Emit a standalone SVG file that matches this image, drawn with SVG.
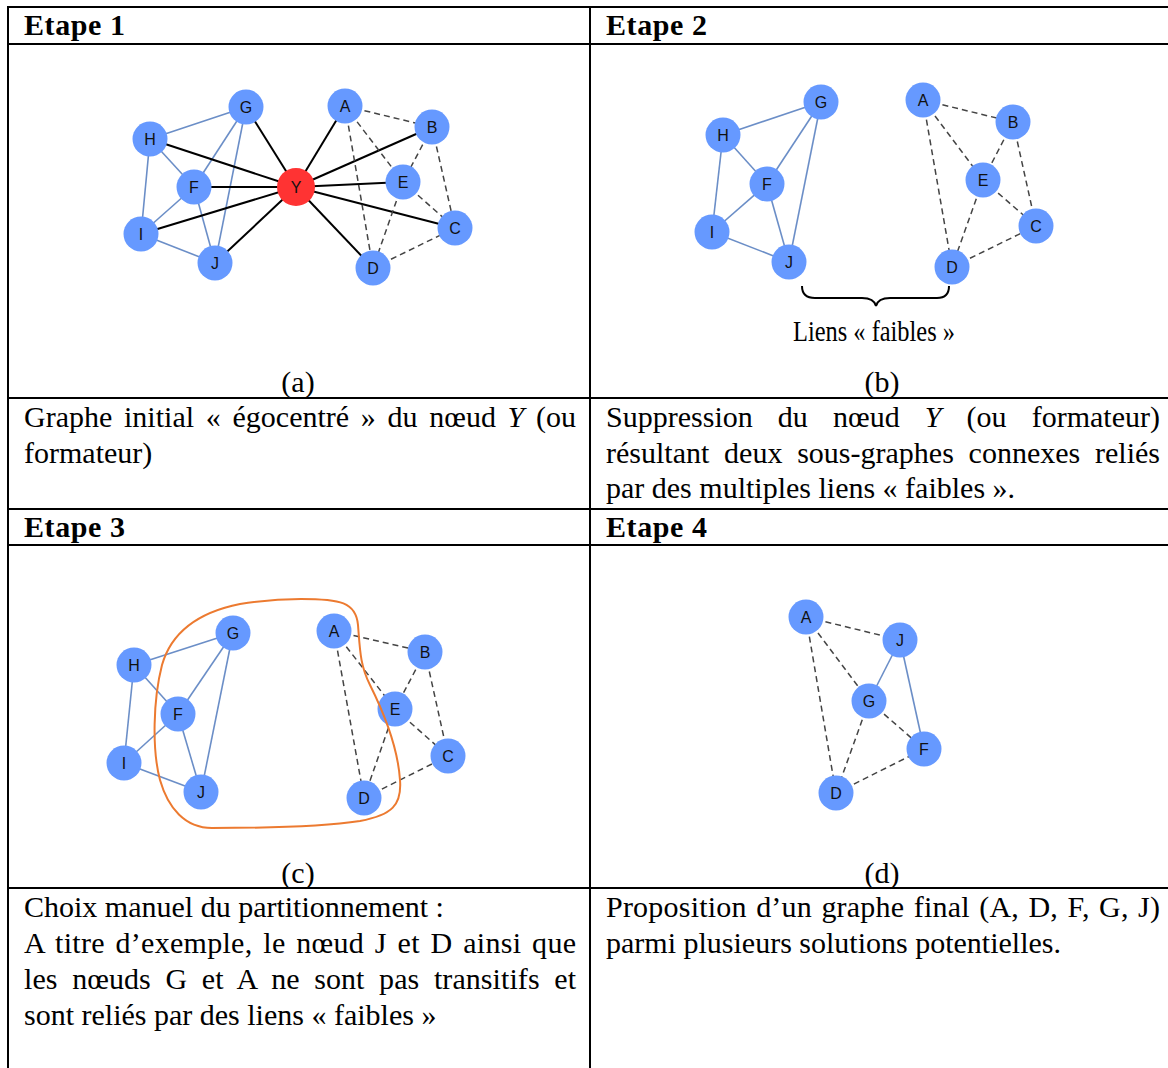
<svg xmlns="http://www.w3.org/2000/svg" width="1168" height="1068" viewBox="0 0 1168 1068">
<style>
.grid{stroke:#000;stroke-width:2;fill:none}
.hd{font-family:"Liberation Serif",serif;font-weight:bold;font-size:30px;fill:#000}
.tx{font-family:"Liberation Serif",serif;font-size:30px;fill:#000}
.cap{font-family:"Liberation Serif",serif;font-size:30px;fill:#000;text-anchor:middle}
.nd{fill:#6699ff}
.ny{fill:#ff3333}
.lb{font-family:"Liberation Sans",Arial,sans-serif;font-size:16px;fill:#111;text-anchor:middle}
.bl{stroke:#6b8ec7;stroke-width:1.6;fill:none}
.bk{stroke:#000;stroke-width:2;fill:none}
.ds{stroke:#444;stroke-width:1.5;stroke-dasharray:6 4;fill:none}
</style>
<rect width="1168" height="1068" fill="#fff"/>
<g id="table" class="grid">
<line x1="8" y1="7" x2="1168" y2="7"/>
<line x1="8" y1="44" x2="1168" y2="44"/>
<line x1="8" y1="398" x2="1168" y2="398"/>
<line x1="8" y1="509" x2="1168" y2="509"/>
<line x1="8" y1="545" x2="1168" y2="545"/>
<line x1="8" y1="888" x2="1168" y2="888"/>
<line x1="8" y1="6" x2="8" y2="1068"/>
<line x1="590" y1="7" x2="590" y2="1068"/>
</g>
<g id="texts">
<text class="hd" x="24" y="35" textLength="101" lengthAdjust="spacing">Etape 1</text>
<text class="hd" x="606" y="35" textLength="101" lengthAdjust="spacing">Etape 2</text>
<text class="hd" x="24" y="537" textLength="101" lengthAdjust="spacing">Etape 3</text>
<text class="hd" x="606" y="537" textLength="101" lengthAdjust="spacing">Etape 4</text>
<text class="cap" x="298" y="392">(a)</text>
<text class="cap" x="882" y="392">(b)</text>
<text class="cap" x="298" y="883">(c)</text>
<text class="cap" x="882" y="883">(d)</text>
<text class="tx" x="24" y="427" word-spacing="4.2" textLength="552" lengthAdjust="spacing">Graphe initial « égocentré » du nœud <tspan font-style="italic">Y</tspan> (ou</text>
<text class="tx" x="24" y="463">formateur)</text>
<text class="tx" x="606" y="427" word-spacing="17.6" textLength="554" lengthAdjust="spacing">Suppression du nœud <tspan font-style="italic">Y</tspan> (ou formateur)</text>
<text class="tx" x="606" y="463" word-spacing="7.3" textLength="554" lengthAdjust="spacing">résultant deux sous-graphes connexes reliés</text>
<text class="tx" x="606" y="498">par des multiples liens « faibles ».</text>
<text class="tx" x="24" y="917">Choix manuel du partitionnement :</text>
<text class="tx" x="24" y="953" word-spacing="3" textLength="552" lengthAdjust="spacing">A titre d’exemple, le nœud J et D ainsi que</text>
<text class="tx" x="24" y="989" word-spacing="7" textLength="552" lengthAdjust="spacing">les nœuds G et A ne sont pas transitifs et</text>
<text class="tx" x="24" y="1025">sont reliés par des liens « faibles »</text>
<text class="tx" x="606" y="917" word-spacing="1.7" textLength="554" lengthAdjust="spacing">Proposition d’un graphe final (A, D, F, G, J)</text>
<text class="tx" x="606" y="953">parmi plusieurs solutions potentielles.</text>
<text class="tx" x="793" y="341" font-size="22" textLength="162" lengthAdjust="spacingAndGlyphs">Liens « faibles »</text>
</g>
<g id="connectors">
<!-- panel a -->
<line class="bl" x1="246" y1="107" x2="150" y2="139"/>
<line class="bl" x1="246" y1="107" x2="194" y2="187"/>
<line class="bl" x1="246" y1="107" x2="215" y2="263"/>
<line class="bl" x1="150" y1="139" x2="194" y2="187"/>
<line class="bl" x1="150" y1="139" x2="141" y2="234"/>
<line class="bl" x1="194" y1="187" x2="141" y2="234"/>
<line class="bl" x1="194" y1="187" x2="215" y2="263"/>
<line class="bl" x1="141" y1="234" x2="215" y2="263"/>
<line class="bk" x1="296" y1="187" x2="246" y2="107"/>
<line class="bk" x1="296" y1="187" x2="150" y2="139"/>
<line class="bk" x1="296" y1="187" x2="194" y2="187"/>
<line class="bk" x1="296" y1="187" x2="141" y2="234"/>
<line class="bk" x1="296" y1="187" x2="215" y2="263"/>
<line class="bk" x1="296" y1="187" x2="345" y2="106"/>
<line class="bk" x1="296" y1="187" x2="432" y2="127"/>
<line class="bk" x1="296" y1="187" x2="403" y2="182"/>
<line class="bk" x1="296" y1="187" x2="455" y2="228"/>
<line class="bk" x1="296" y1="187" x2="373" y2="268"/>
<line class="ds" x1="345" y1="106" x2="432" y2="127"/>
<line class="ds" x1="345" y1="106" x2="403" y2="182"/>
<line class="ds" x1="345" y1="106" x2="373" y2="268"/>
<line class="ds" x1="432" y1="127" x2="403" y2="182"/>
<line class="ds" x1="432" y1="127" x2="455" y2="228"/>
<line class="ds" x1="403" y1="182" x2="455" y2="228"/>
<line class="ds" x1="403" y1="182" x2="373" y2="268"/>
<line class="ds" x1="373" y1="268" x2="455" y2="228"/>
<!-- panel b -->
<line class="bl" x1="821" y1="102" x2="723" y2="135"/>
<line class="bl" x1="821" y1="102" x2="767" y2="184"/>
<line class="bl" x1="821" y1="102" x2="789" y2="262"/>
<line class="bl" x1="723" y1="135" x2="767" y2="184"/>
<line class="bl" x1="723" y1="135" x2="712" y2="232"/>
<line class="bl" x1="767" y1="184" x2="712" y2="232"/>
<line class="bl" x1="767" y1="184" x2="789" y2="262"/>
<line class="bl" x1="712" y1="232" x2="789" y2="262"/>
<line class="ds" x1="923" y1="100" x2="1013" y2="122"/>
<line class="ds" x1="923" y1="100" x2="983" y2="180"/>
<line class="ds" x1="923" y1="100" x2="952" y2="267"/>
<line class="ds" x1="1013" y1="122" x2="983" y2="180"/>
<line class="ds" x1="1013" y1="122" x2="1036" y2="226"/>
<line class="ds" x1="983" y1="180" x2="1036" y2="226"/>
<line class="ds" x1="983" y1="180" x2="952" y2="267"/>
<line class="ds" x1="952" y1="267" x2="1036" y2="226"/>
<path class="bk" stroke-width="1.5" d="M802,286 Q802,298 815,298 L862,298 Q874,298 876,306 Q878,298 890,298 L937,298 Q949,298 949,286"/>
<!-- panel c -->
<line class="bl" x1="233" y1="633" x2="134" y2="665"/>
<line class="bl" x1="233" y1="633" x2="178" y2="714"/>
<line class="bl" x1="233" y1="633" x2="201" y2="792"/>
<line class="bl" x1="134" y1="665" x2="178" y2="714"/>
<line class="bl" x1="134" y1="665" x2="124" y2="763"/>
<line class="bl" x1="178" y1="714" x2="124" y2="763"/>
<line class="bl" x1="178" y1="714" x2="201" y2="792"/>
<line class="bl" x1="124" y1="763" x2="201" y2="792"/>
<line class="ds" x1="334" y1="631" x2="425" y2="652"/>
<line class="ds" x1="334" y1="631" x2="395" y2="709"/>
<line class="ds" x1="334" y1="631" x2="364" y2="798"/>
<line class="ds" x1="425" y1="652" x2="395" y2="709"/>
<line class="ds" x1="425" y1="652" x2="448" y2="756"/>
<line class="ds" x1="395" y1="709" x2="448" y2="756"/>
<line class="ds" x1="395" y1="709" x2="364" y2="798"/>
<line class="ds" x1="364" y1="798" x2="448" y2="756"/>
<!-- panel d -->
<line class="ds" x1="806" y1="617" x2="900" y2="640"/>
<line class="ds" x1="806" y1="617" x2="869" y2="701"/>
<line class="ds" x1="806" y1="617" x2="836" y2="793"/>
<line class="bl" x1="900" y1="640" x2="869" y2="701"/>
<line class="bl" x1="900" y1="640" x2="924" y2="749"/>
<line class="ds" x1="869" y1="701" x2="924" y2="749"/>
<line class="ds" x1="869" y1="701" x2="836" y2="793"/>
<line class="ds" x1="836" y1="793" x2="924" y2="749"/>
</g>
<g id="nodes-a">
<g id="a-G"><circle class="nd" cx="246" cy="107" r="17.5"/><text class="lb" x="246" y="113">G</text></g>
<g id="a-H"><circle class="nd" cx="150" cy="139" r="17.5"/><text class="lb" x="150" y="145">H</text></g>
<g id="a-F"><circle class="nd" cx="194" cy="187" r="17.5"/><text class="lb" x="194" y="193">F</text></g>
<g id="a-I"><circle class="nd" cx="141" cy="234" r="17.5"/><text class="lb" x="141" y="240">I</text></g>
<g id="a-J"><circle class="nd" cx="215" cy="263" r="17.5"/><text class="lb" x="215" y="269">J</text></g>
<g id="a-Y"><circle class="ny" cx="296" cy="187" r="19"/><text class="lb" x="296" y="193">Y</text></g>
<g id="a-A"><circle class="nd" cx="345" cy="106" r="17.5"/><text class="lb" x="345" y="112">A</text></g>
<g id="a-B"><circle class="nd" cx="432" cy="127" r="17.5"/><text class="lb" x="432" y="133">B</text></g>
<g id="a-E"><circle class="nd" cx="403" cy="182" r="17.5"/><text class="lb" x="403" y="188">E</text></g>
<g id="a-C"><circle class="nd" cx="455" cy="228" r="17.5"/><text class="lb" x="455" y="234">C</text></g>
<g id="a-D"><circle class="nd" cx="373" cy="268" r="17.5"/><text class="lb" x="373" y="274">D</text></g>
</g>
<g id="nodes-b">
<g id="b-G"><circle class="nd" cx="821" cy="102" r="17.5"/><text class="lb" x="821" y="108">G</text></g>
<g id="b-H"><circle class="nd" cx="723" cy="135" r="17.5"/><text class="lb" x="723" y="141">H</text></g>
<g id="b-F"><circle class="nd" cx="767" cy="184" r="17.5"/><text class="lb" x="767" y="190">F</text></g>
<g id="b-I"><circle class="nd" cx="712" cy="232" r="17.5"/><text class="lb" x="712" y="238">I</text></g>
<g id="b-J"><circle class="nd" cx="789" cy="262" r="17.5"/><text class="lb" x="789" y="268">J</text></g>
<g id="b-A"><circle class="nd" cx="923" cy="100" r="17.5"/><text class="lb" x="923" y="106">A</text></g>
<g id="b-B"><circle class="nd" cx="1013" cy="122" r="17.5"/><text class="lb" x="1013" y="128">B</text></g>
<g id="b-E"><circle class="nd" cx="983" cy="180" r="17.5"/><text class="lb" x="983" y="186">E</text></g>
<g id="b-C"><circle class="nd" cx="1036" cy="226" r="17.5"/><text class="lb" x="1036" y="232">C</text></g>
<g id="b-D"><circle class="nd" cx="952" cy="267" r="17.5"/><text class="lb" x="952" y="273">D</text></g>
</g>
<g id="nodes-c">
<g id="c-G"><circle class="nd" cx="233" cy="633" r="17.5"/><text class="lb" x="233" y="639">G</text></g>
<g id="c-H"><circle class="nd" cx="134" cy="665" r="17.5"/><text class="lb" x="134" y="671">H</text></g>
<g id="c-F"><circle class="nd" cx="178" cy="714" r="17.5"/><text class="lb" x="178" y="720">F</text></g>
<g id="c-I"><circle class="nd" cx="124" cy="763" r="17.5"/><text class="lb" x="124" y="769">I</text></g>
<g id="c-J"><circle class="nd" cx="201" cy="792" r="17.5"/><text class="lb" x="201" y="798">J</text></g>
<g id="c-A"><circle class="nd" cx="334" cy="631" r="17.5"/><text class="lb" x="334" y="637">A</text></g>
<g id="c-B"><circle class="nd" cx="425" cy="652" r="17.5"/><text class="lb" x="425" y="658">B</text></g>
<g id="c-E"><circle class="nd" cx="395" cy="709" r="17.5"/><text class="lb" x="395" y="715">E</text></g>
<g id="c-C"><circle class="nd" cx="448" cy="756" r="17.5"/><text class="lb" x="448" y="762">C</text></g>
<g id="c-D"><circle class="nd" cx="364" cy="798" r="17.5"/><text class="lb" x="364" y="804">D</text></g>
<path id="c-partition" fill="none" stroke="#ec7a30" stroke-width="2" d="M301,599 C340,599 356,602 358,625 C360,650 360,665 370,685 C385,715 398,750 400,780 C402,805 392,815 360,821 C320,827 250,828 212,828 C185,828 168,808 160,780 C152,750 153,700 162,665 C172,630 200,612 240,604 C265,600 285,599 301,599 Z"/>
</g>
<g id="nodes-d">
<g id="d-A"><circle class="nd" cx="806" cy="617" r="17.5"/><text class="lb" x="806" y="623">A</text></g>
<g id="d-J"><circle class="nd" cx="900" cy="640" r="17.5"/><text class="lb" x="900" y="646">J</text></g>
<g id="d-G"><circle class="nd" cx="869" cy="701" r="17.5"/><text class="lb" x="869" y="707">G</text></g>
<g id="d-F"><circle class="nd" cx="924" cy="749" r="17.5"/><text class="lb" x="924" y="755">F</text></g>
<g id="d-D"><circle class="nd" cx="836" cy="793" r="17.5"/><text class="lb" x="836" y="799">D</text></g>
</g>
</svg>
